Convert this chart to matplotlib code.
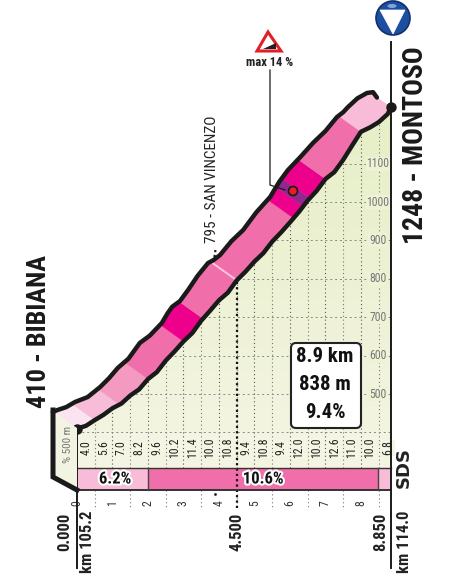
import numpy as np
import matplotlib
matplotlib.use("Agg")
import matplotlib.pyplot as plt
import matplotlib.patheffects as pe
from matplotlib.patches import Polygon, Circle, Ellipse, FancyBboxPatch
import logging
logging.getLogger("matplotlib.font_manager").setLevel(logging.ERROR)

# lower edge of the profile
km = [0, .25, .5, .75, 1, 1.25, 1.5, 1.75, 2, 2.25, 2.5, 2.75, 3, 3.25, 3.5, 3.75, 4, 4.25, 4.5,
      4.75, 5, 5.25, 5.5, 5.75, 6, 6.25, 6.5, 6.75, 7, 7.25, 7.5, 7.75, 8, 8.25, 8.5, 8.75, 8.85]
alt = [410, 417, 432, 446, 463, 475, 496, 512, 539, 557, 587, 611, 637, 659, 691, 717, 744, 764, 796,
       819, 845, 867, 897, 921, 947, 974, 1004, 1029, 1060, 1078, 1110, 1147, 1183, 1194, 1208, 1229, 1248]

# upper edge of the ribbon
top_km = [-0.68, -0.56, -0.3, -0.06, 0.3, 0.65, 0.9, 1.15, 1.45, 1.77, 2.05, 2.39, 2.55, 2.68, 2.9, 3.13, 3.4, 3.69,
          3.85, 4.03, 4.35, 4.68, 5.05, 5.44, 5.7, 5.94, 6.3, 6.65, 7.0, 7.32, 7.5, 7.63, 7.9, 8.17, 8.34, 8.45]
top_alt = [453, 458, 466, 479, 492, 518, 541, 568, 592, 633, 652, 685, 710, 727, 742, 771, 808, 841,
           849, 862, 898, 927, 973, 1013, 1053, 1083, 1118, 1154, 1185, 1221, 1234, 1247, 1270, 1284, 1286, 1272]

# coloured bands of the ribbon
band_edges = [0, 0.5, 1.2, 2, 3, 3.55, 6.1, 6.37, 6.56, 7, 8, 8.85]
band_colors = ["#fbe3ef", "#f7bcd8", "#f49ac1", "#f06eaa", "#ec008c", "#f06eaa",
               "#ec008c", "#92278f", "#ec008c", "#f06eaa", "#f8bbd8"]

# gradient every 500 m
grad_labels = ["4.0", "5.6", "7.0", "8.2", "9.6", "10.2", "11.4", "10.0", "10.8",
               "9.4", "10.8", "9.4", "12.0", "10.0", "12.6", "11.0", "10.0", "6.8"]
alt_ticks = [500, 600, 700, 800, 900, 1000, 1100]

# gradient strip
strip_edges = [0, 2, 8.48, 8.85]
strip_colors = ["#f8bbd8", "#f06eaa", "#f8bbd8"]
strip_labels = ["6.2%", "10.6%", ""]

# scale of the drawing in pixels
PX_KM = 35.5
PX_M = 0.384
X0 = 77
Y500 = 394


def y_alt(py):
    return 500 + (Y500 - py) / PX_M


fig = plt.figure(figsize=(4.6, 5.75), dpi=100)
ax = fig.add_axes([0, 0, 1, 1])
ax.set_xlim(-X0 / PX_KM, (460 - X0) / PX_KM)
ax.set_ylim(y_alt(575), y_alt(0))
ax.axis("off")

narrow = ["Roboto Condensed", "Saira Condensed", "Liberation Sans"]
base = y_alt(490)
strip_top = y_alt(468)
halo = [pe.withStroke(linewidth=3, foreground="white")]

# green background under the profile
bg = Polygon(list(zip(km, alt)) + [(km[-1], strip_top), (0, strip_top)], closed=True, transform=ax.transData, fc="none", ec="none")
ax.add_patch(bg)
grad = np.linspace(0, 1, 256).reshape(-1, 1)
cols = np.array([0xf5, 0xf5, 0xe4]) * (1 - grad[..., None]) + np.array([0xe6, 0xef, 0xc6]) * grad[..., None]
im = ax.imshow(cols[::-1] / 255, extent=[0, km[-1], strip_top, 1250], aspect="auto", zorder=1)
im.set_clip_path(bg)

# dotted grid
for i in range(1, 18):
    k = i * 0.5
    c = "#777777" if i % 2 else "#555555"
    ln, = ax.plot([k, k], [strip_top, 1260], ls=(0, (1, 2.5)), lw=0.8, color=c, zorder=2)
    ln.set_clip_path(bg)
    if i % 2:
        ax.plot([k, k], [base, y_alt(508)], ls=(0, (1, 2.5)), lw=0.8, color="#777777", zorder=2)
    else:
        ax.text(k, y_alt(503), str(i // 2), rotation=90, ha="center", va="center", fontsize=8.5, family=narrow, color="#333333")
for a in [400] + alt_ticks:
    ln, = ax.plot([0, km[-1]], [a, a], ls=(0, (2, 3)), lw=0.7, color="#888888", zorder=2)
    ln.set_clip_path(bg)
for a in alt_ticks:
    ax.text(8.47, a, str(a), ha="center", va="center", fontsize=8.5, family=narrow, color="#777777", zorder=3,
            bbox=dict(fc="#eff3d6", ec="none", pad=0.4))
ax.text(0, y_alt(503), "0", rotation=90, ha="center", va="center", fontsize=8.5, family=narrow, color="#333333")

# gradient labels
for i, g in enumerate(grad_labels):
    ax.text(0.25 + i * 0.5, y_alt(448), g, rotation=90, ha="center", va="center", fontsize=8.5, family=narrow,
            color="#222222", zorder=4, bbox=dict(fc="#f4f5e3", ec="none", pad=0.4))

# ribbon
ribbon_pts = list(zip(km, alt)) + list(zip(top_km, top_alt))[::-1]
ribbon = Polygon(ribbon_pts, closed=True, transform=ax.transData, fc="none", ec="none")
ax.add_patch(ribbon)
dx, dy = -21 / PX_KM, 15 / PX_M
for i, c in enumerate(band_colors):
    a, b = band_edges[i], band_edges[i + 1]
    ya, yb = np.interp([a, b], km, alt)
    quad = [(a - dx * .3, ya - dy * .3), (b - dx * .3, yb - dy * .3), (b + dx * 1.5, yb + dy * 1.5), (a + dx * 1.5, ya + dy * 1.5)]
    band = ax.add_patch(Polygon(quad, closed=True, fc=c, ec=c, lw=0.3, zorder=5))
    band.set_clip_path(ribbon)
# light line at the intermediate point
ya = np.interp(4.5, km, alt)
ln, = ax.plot([4.5, 4.5 + dx * 1.2], [ya, ya + dy * 1.2], color="#f9c6df", lw=1.4, zorder=6)
ln.set_clip_path(ribbon)

ax.plot(km, alt, color="#1a1a1a", lw=3.2, zorder=7, solid_capstyle="round", solid_joinstyle="round")
ax.plot(top_km, top_alt, color="#1a1a1a", lw=3.2, zorder=7, solid_capstyle="round", solid_joinstyle="round")

# gradient strip
for i, c in enumerate(strip_colors):
    ax.fill_between(strip_edges[i:i + 2], base, strip_top, color=c, lw=0, zorder=3)
    if strip_labels[i]:
        ax.text(sum(strip_edges[i:i + 2]) / 2 + (0.07 if i == 0 else 0), (base + strip_top) / 2, strip_labels[i], ha="center", va="center",
                fontsize=12, fontweight="bold", family=narrow, color="#111111", zorder=5, path_effects=halo)
ax.plot([0, km[-1]], [strip_top, strip_top], color="#333333", lw=1.0, zorder=4)
ax.plot([0, km[-1]], [base, base], color="#333333", lw=1.4, zorder=4)
for k in strip_edges[1:3]:
    ax.plot([k, k], [base, strip_top], color="#444444", lw=1.0, zorder=4)

# axes lines
ax.plot([0, 0], [y_alt(568), 410], color="#1a1a1a", lw=1.4, zorder=4)
ax.plot([km[-1], km[-1]], [y_alt(568), y_alt(42)], color="#1a1a1a", lw=1.4, zorder=4)

# 4.500 marker
y45 = np.interp(4.5, km, alt)
ax.plot([4.5, 4.5], [y_alt(508), y45], ls=(0, (1, 1.4)), lw=1.6, color="#111111", zorder=3.5)
ax.plot([3.9, 3.85], [y_alt(250), y_alt(262)], ls=(0, (1, 1.2)), lw=1.6, color="#222222", zorder=3)
ax.plot([km[0], km[-1]], [alt[0], alt[-1]], "o", ms=7.5, color="#1a1a1a", mew=0, zorder=8)

# overlay in pixel coordinates for the decoration
ov = fig.add_axes([0, 0, 1, 1], facecolor="none")
ov.set_xlim(0, 460)
ov.set_ylim(575, 0)
ov.axis("off")

# left side of the start
ov.add_patch(Polygon([(53, 412), (77, 428), (77, 490), (53, 477)], closed=True, fc="#f2f3e0", ec="none", zorder=1))
ov.plot([53, 53, 77], [410, 477, 490], color="#1a1a1a", lw=3.6, solid_joinstyle="miter", zorder=2)
ov.text(68, 444, "% 500 m", rotation=90, ha="center", va="center", fontsize=8, family=narrow, color="#777777")
ov.plot([215], [494], ".", ms=2, color="#222222")

# info box
ov.add_patch(FancyBboxPatch((291, 343), 70, 85, boxstyle="round,pad=0,rounding_size=5", fc="white", ec="#222222", lw=1.5, zorder=3))
for y, s in zip([356, 384, 412], ["8.9 km", "838 m", "9.4%"]):
    ov.text(325, y, s, ha="center", va="center", fontsize=15, fontweight="bold", family=narrow, color="#111111", zorder=4)

# big names
ov.text(39, 331, "410 - BIBIANA", rotation=90, ha="center", va="center", fontsize=19, fontweight="bold", family=narrow, color="#1a1a1a")
ov.text(416, 145, "1248 - MONTOSO", rotation=90, ha="center", va="center", fontsize=20, fontweight="bold", family=narrow, color="#1a1a1a")
ov.text(212, 179, "795 - SAN VINCENZO", rotation=90, ha="center", va="center", fontsize=11, family=narrow, color="#222222")

# km labels
for x, s, y in [(65, "0.000", 532), (237, "4.500", 532), (381, "8.850", 532), (88, "km 105.2", 542), (405, "km 114.0", 542)]:
    ov.text(x, y, s, rotation=90, ha="center", va="center", fontsize=12, fontweight="bold", family=narrow, color="#222222")
ov.text(404, 468, "SDS", rotation=90, ha="center", va="center", fontsize=13, fontweight="bold", family="DejaVu Sans", color="#222222")

# finish marker
ov.add_patch(Circle((393, 18), 17, fc="#1c4fa0", ec="#12306b", lw=1.2, zorder=3))
ov.add_patch(Ellipse((392, 6), 9, 4, fc="#7fa6d8", ec="none", zorder=4))
ov.add_patch(Polygon([(380, 10), (405, 10), (393, 34)], closed=True, fc="white", ec="white", lw=0.5, zorder=4))

# max gradient sign
ov.add_patch(Polygon([(268, 32), (257, 51), (281, 51)], closed=True, fc="white", ec="#e01f26", lw=2.2, zorder=3))
ov.add_patch(Polygon([(263, 49), (276, 49), (276, 43)], closed=True, fc="#222222", ec="none", zorder=4))
ov.text(270, 62, "max 14 %", ha="center", va="center", fontsize=9, fontweight="bold", family=narrow, color="#222222")
ov.plot([270, 270, 285], [70, 185, 190], color="#1a1a1a", lw=0.9, zorder=9)
ov.add_patch(Circle((293, 191), 4.5, fc="#ed1c24", ec="#1a1a1a", lw=1.2, zorder=10))

fig.savefig("out.png", dpi=100)
